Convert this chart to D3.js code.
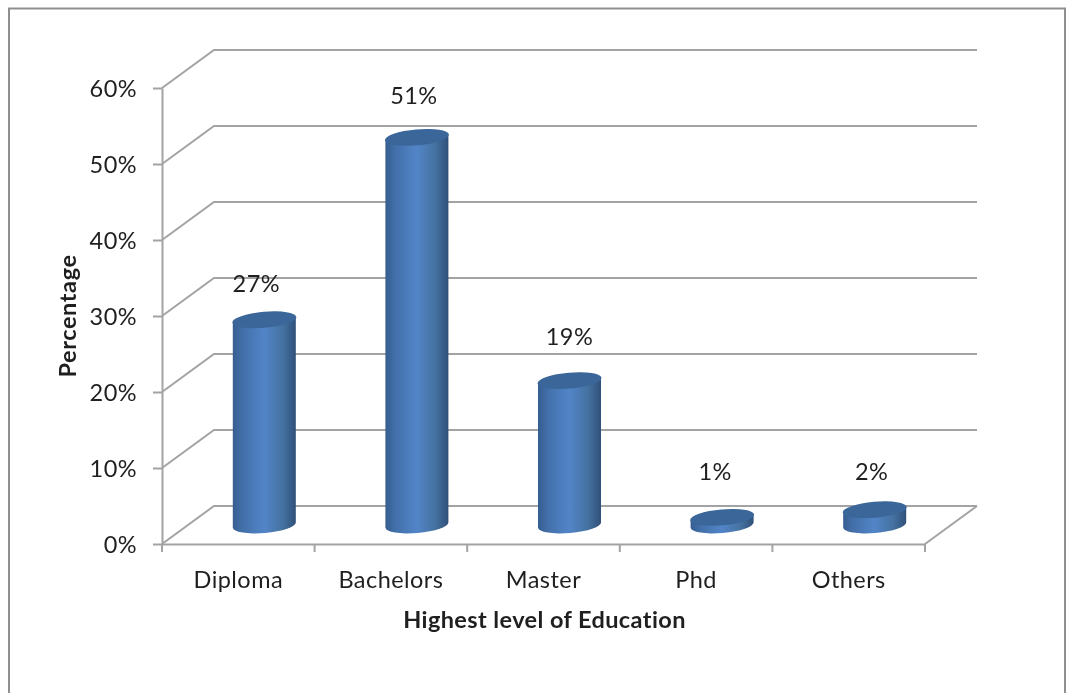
<!DOCTYPE html>
<html><head><meta charset="utf-8">
<script src="https://cdn.jsdelivr.net/npm/d3@7"></script>
<style>html,body{margin:0;padding:0;background:#fff}svg{display:block;filter:blur(0.35px)}text{font-family:Lato,"Open Sans",sans-serif;fill:#1f1f1f}</style>
</head><body><div id="c"></div>
<script>
const categories = ["Diploma","Bachelors","Master","Phd","Others"];
const values = [27,51,19,1,2];
const yTicks = [0,10,20,30,40,50,60];
const xTitle = "Highest level of Education";
const yTitle = "Percentage";

const W=1066,H=693, dx=52, dy=-38, plotL=162, plotR=925, plotT=88, plotB=544;
const svg=d3.select("#c").append("svg").attr("width",W).attr("height",H);
const y=d3.scaleLinear().domain([0,60]).range([plotB,plotT]);
const x=d3.scaleBand().domain(categories).range([plotL,plotR]);
const grid="#a3a3a3", fs=23.5, ls="0.45px";

const defs=svg.append("defs");
const g=defs.append("linearGradient").attr("id","cyl").attr("x1",0).attr("x2",1).attr("y1",0).attr("y2",0);
[[0,"#365d8f"],[.15,"#426fa9"],[.5,"#5285c8"],[.8,"#44719f"],[1,"#2f5079"]].forEach(s=>g.append("stop").attr("offset",s[0]).attr("stop-color",s[1]));

// outer frame
svg.append("path").attr("d",`M9,${H}V8.5H${W-1}V${H}`).attr("fill","none").attr("stroke","#8f8f8f").attr("stroke-width",2);

// walls
const wall=svg.append("g").attr("fill","none").attr("stroke",grid).attr("stroke-width",2);
wall.selectAll("path").data(yTicks).join("path")
  .attr("d",t=>`M${plotL},${y(t)}L${plotL+dx},${y(t)+dy}H${plotR+dx}`);
wall.append("path").attr("d",`M${plotR},${plotB}L${plotR+dx},${plotB+dy}`);

// axes
const ay=svg.append("g").attr("transform",`translate(${plotL},0)`)
  .call(d3.axisLeft(y).tickValues(yTicks).tickFormat(d=>d+"%").tickSize(9).tickSizeOuter(0).tickPadding(16));
const ax=svg.append("g").attr("transform",`translate(0,${plotB})`)
  .call(d3.axisBottom(x).tickSize(0).tickPadding(27));
[ay,ax].forEach(a=>{a.selectAll("path.domain").attr("stroke",grid).attr("stroke-width",2);
  a.selectAll("line").attr("stroke",grid).attr("stroke-width",2);
  a.selectAll("text").attr("font-size",fs).attr("fill","#1f1f1f").style("letter-spacing",ls).style("font-family","Lato,'Open Sans',sans-serif");});
ay.selectAll(".tick text").attr("dy","0.38em");
svg.append("g").selectAll("line").data(d3.range(6)).join("line")
  .attr("x1",i=>plotL+i*x.step()).attr("x2",i=>plotL+i*x.step())
  .attr("y1",plotB).attr("y2",plotB+8).attr("stroke",grid).attr("stroke-width",2);

// cylinders
const rx=31.5, ry=8, tilt=-5, baseY=y(0)+dy/2;
const cx=c=>x(c)+x.bandwidth()/2+dx/2;
const h=v=>y(0)-y(v);
const cyl=svg.append("g").selectAll("g").data(categories).join("g")
  .attr("transform",c=>`translate(${cx(c)},${baseY})`);
cyl.append("path").attr("fill","url(#cyl)").attr("d",(c,i)=>{
  const H0=h(values[i]), a=Math.tan(tilt*Math.PI/180)*rx;
  return `M${-rx},${-a}L${-rx},${-H0-a}L${rx},${-H0+a}L${rx},${a}A${rx},${ry} ${tilt} 0 1 ${-rx},${-a}Z`;
});
cyl.append("ellipse").attr("rx",rx+.6).attr("ry",ry).attr("fill","#3a6699")
  .attr("transform",(c,i)=>`translate(0,${-h(values[i])}) rotate(${tilt})`);

// data labels
const labelDx=[-8,-3,0,-7,-3], labelDy=[34,39,42,43,36];
svg.append("g").selectAll("text").data(categories).join("text")
  .attr("text-anchor","middle").attr("font-size",fs).style("letter-spacing",ls).attr("dominant-baseline","middle")
  .attr("x",(c,i)=>cx(c)+labelDx[i])
  .attr("y",(c,i)=>baseY-h(values[i])-labelDy[i])
  .text((c,i)=>values[i]+"%");

// titles
svg.append("text").attr("x",544.5).attr("y",628).attr("text-anchor","middle")
  .attr("font-size",fs).style("letter-spacing","0.4px").attr("font-weight",700).attr("fill","#111").text(xTitle);
svg.append("text").attr("transform","translate(76,316) rotate(-90)").attr("text-anchor","middle")
  .attr("font-size",fs).style("letter-spacing","0.6px").attr("font-weight",700).attr("fill","#111").text(yTitle);
</script></body></html>
